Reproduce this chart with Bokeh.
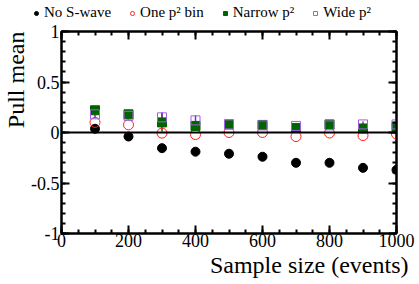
from bokeh.plotting import figure
from bokeh.layouts import column
from bokeh.models import Span, Legend, LegendItem, LinearAxis, FixedTicker, Range1d, CustomJSTickFormatter, Title
from bokeh.embed import file_html
from bokeh.resources import INLINE

sizes = [100, 200, 300, 400, 500, 600, 700, 800, 900, 1000]
no_swave = [0.037, -0.04, -0.155, -0.19, -0.21, -0.24, -0.30, -0.30, -0.35, -0.37]
one_bin = [0.10, 0.076, -0.006, -0.02, 0.0, 0.0, -0.04, -0.005, -0.03, -0.015]
narrow = [0.22, 0.18, 0.10, 0.065, 0.08, 0.075, 0.045, 0.08, 0.04, 0.055]
narrow_err = [0.03, 0.025, 0.09, 0.05, 0.03, 0.03, 0.03, 0.03, 0.04, 0.03]
wide = [0.18, 0.165, 0.15, 0.12, 0.08, 0.07, 0.065, 0.07, 0.08, 0.08]
wide_err = [0.03, 0.025, 0.05, 0.05, 0.03, 0.03, 0.03, 0.03, 0.03, 0.03]
series_labels = ["No S-wave", "One p² bin", "Narrow p²", "Wide p²"]

FONT = "Liberation Serif"
styles = [
    dict(marker="circle", size=9, fill_color="black", line_color="black", line_width=1),
    dict(marker="circle", size=10, fill_color=None, line_color="#ff2020", line_width=1),
    dict(marker="square", size=9, fill_color="#006400", line_color="#006400", line_width=1),
    dict(marker="square", size=9, fill_color=None, line_color="#a060e0", line_width=1),
]

LEG_H = 21
p = figure(width=419, height=284 - LEG_H, output_backend="svg", toolbar_location=None,
           x_range=Range1d(0, 1000), y_range=Range1d(-1, 1),
           min_border_left=58, min_border_right=23, min_border_top=10, min_border_bottom=51)
p.grid.visible = False
p.outline_line_color = "black"
p.outline_line_width = 2

def style(ax):
    ax.axis_line_width = 2
    ax.major_tick_in = 8
    ax.major_tick_out = 0
    ax.minor_tick_in = 4
    ax.minor_tick_out = 0
    ax.major_tick_line_width = 2
    ax.minor_tick_line_width = 2
    ax.major_label_text_font = FONT
    ax.major_label_text_font_size = "18px"
    ax.major_label_text_color = "black"

style(p.xaxis[0])
style(p.yaxis[0])

xt = FixedTicker(ticks=[0, 200, 400, 600, 800, 1000], minor_ticks=list(range(0, 1001, 50)))
yt = FixedTicker(ticks=[-1, -0.5, 0, 0.5, 1], minor_ticks=[round(-1 + 0.1 * i, 2) for i in range(21)])
p.xaxis.ticker = xt
p.yaxis.ticker = yt
p.yaxis.major_label_overrides = {1: "1", 0.5: "0.5", 0: "0", -0.5: "-0.5", -1: "-1"}
p.xaxis.major_label_standoff = 0
p.yaxis.major_label_standoff = 2

for loc, tk in [("above", xt), ("right", yt)]:
    ax = LinearAxis(ticker=tk, formatter=CustomJSTickFormatter(code="return ''"))
    style(ax)
    ax.major_label_standoff = 0
    p.add_layout(ax, loc)

# axis titles as side-panel titles so they can be end-aligned
p.add_layout(Title(text="Sample size (events)", align="right", offset=-12, standoff=0,
                   text_font=FONT, text_font_size="24px", text_font_style="normal",
                   text_color="black"), "below")
p.add_layout(Title(text="Pull mean", align="right", offset=0, standoff=0,
                   text_font=FONT, text_font_size="24px", text_font_style="normal",
                   text_color="black"), "left")

p.add_layout(Span(location=0, dimension="width", line_color="black", line_width=2))

# error bars
p.segment(x0=sizes, x1=sizes, y0=[v - e for v, e in zip(narrow, narrow_err)],
          y1=[v + e for v, e in zip(narrow, narrow_err)], line_color="#006400", line_width=1.5)
p.segment(x0=sizes, x1=sizes, y0=[v - e for v, e in zip(wide, wide_err)],
          y1=[v + e for v, e in zip(wide, wide_err)], line_color="#7a30c0", line_width=1.5)

for ys, st in zip([no_swave, one_bin, narrow, wide], styles):
    p.scatter(sizes, ys, **st)

# legend strip above the plot
lf = figure(width=419, height=LEG_H, output_backend="svg", toolbar_location=None,
            x_range=Range1d(0, 1), y_range=Range1d(0, 1),
            x_axis_location=None, y_axis_location=None,
            min_border_left=0, min_border_right=0, min_border_top=0, min_border_bottom=0)
lf.grid.visible = False
lf.outline_line_color = None
for fig in (lf, p):
    if "frame_align" in fig.properties():
        fig.frame_align = False
items = []
for lab, st in zip(series_labels, styles):
    r = lf.scatter(x=[-5], y=[-5], **st)
    items.append(LegendItem(label=lab, renderers=[r]))
legend = Legend(items=items, orientation="horizontal", location=(31, 0),
                label_text_font=FONT, label_text_font_size="15px", label_text_color="black",
                glyph_width=10, glyph_height=10, label_standoff=3, spacing=16,
                label_height=15, padding=0, margin=0, border_line_alpha=0, background_fill_alpha=0)
lf.add_layout(legend)

open("out.html", "w").write(file_html(column(lf, p, spacing=0), INLINE))
